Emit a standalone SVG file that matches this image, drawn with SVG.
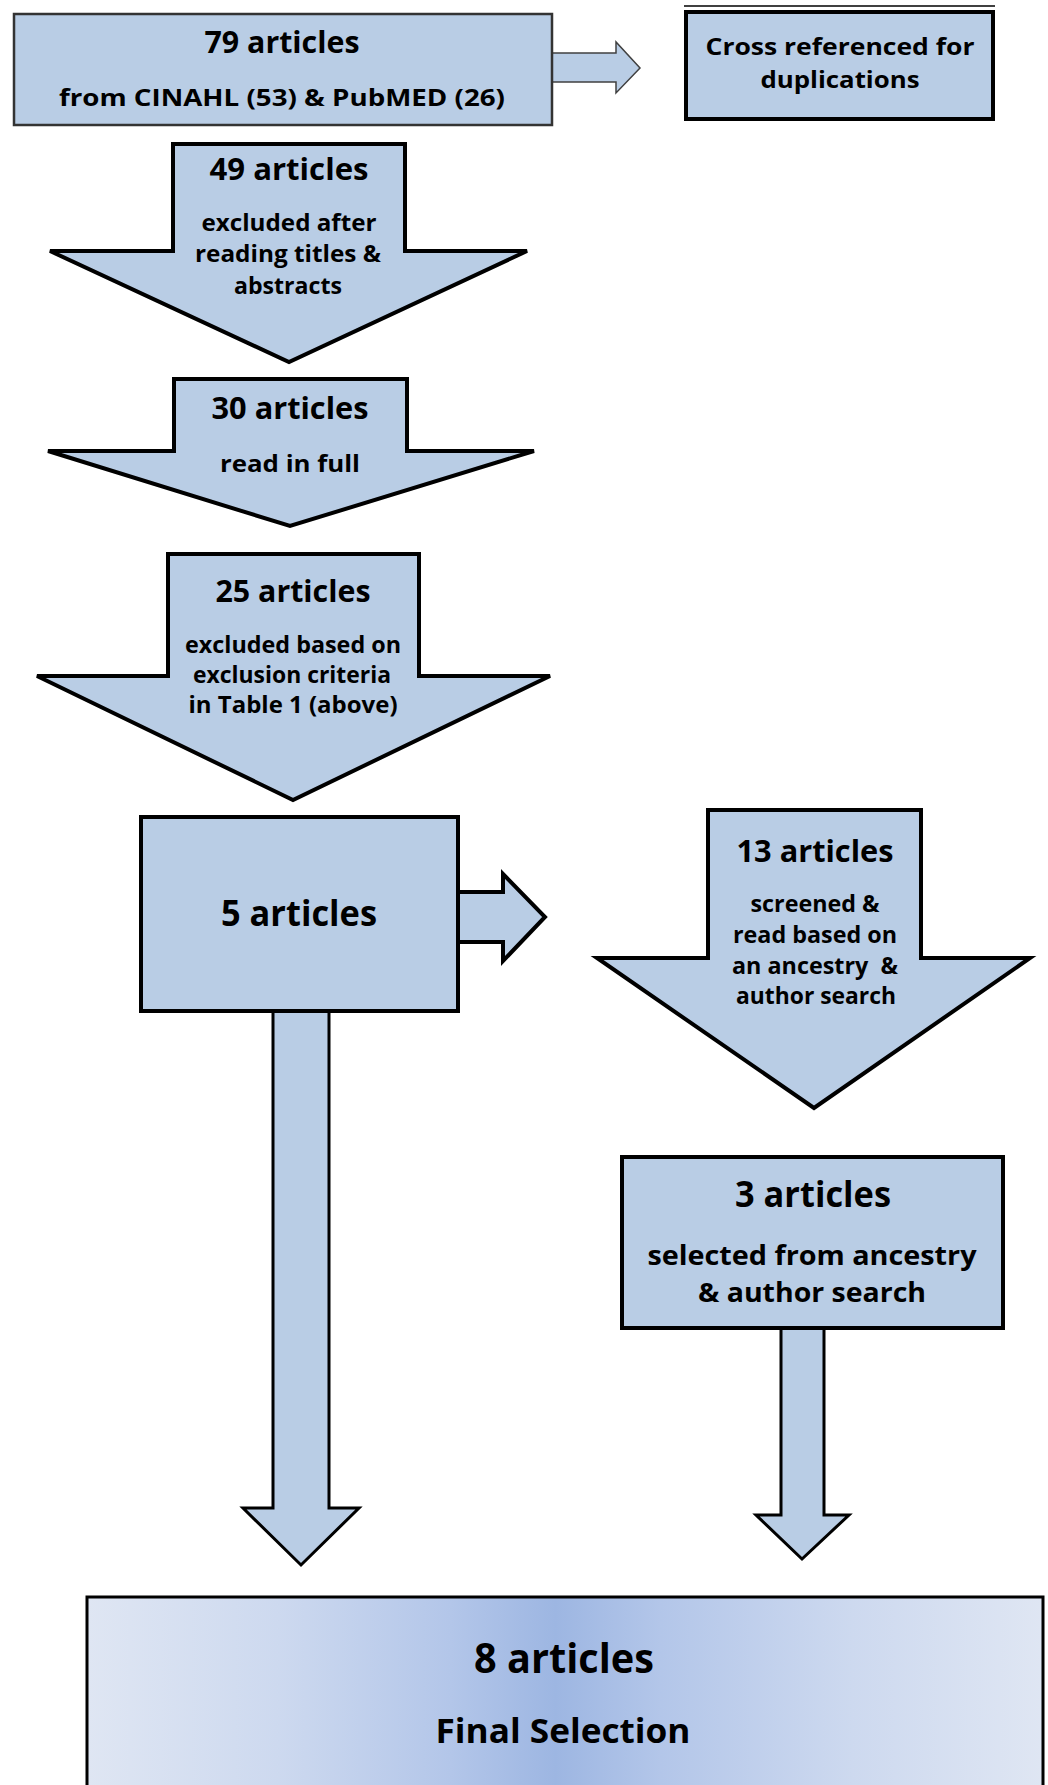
<svg xmlns="http://www.w3.org/2000/svg" width="1048" height="1785" viewBox="0 0 1048 1785">
<style>
.n{fill:#B9CDE5;stroke:#000;stroke-width:4;stroke-linejoin:miter}
.t{font-family:"Open Sans","Liberation Sans",sans-serif;font-weight:bold;fill:#000;text-anchor:middle;white-space:pre}
.h{font-size:30px}
.s{font-size:22.5px}
.b{font-size:36px}
</style>
<defs>
<linearGradient id="fg" x1="0" y1="0" x2="1" y2="0">
<stop offset="0" stop-color="#DFE6F3"/>
<stop offset="0.2" stop-color="#CDD9EF"/>
<stop offset="0.38" stop-color="#B3C6E9"/>
<stop offset="0.49" stop-color="#9DB6E2"/>
<stop offset="0.6" stop-color="#B3C6E9"/>
<stop offset="0.8" stop-color="#CDD9EF"/>
<stop offset="1" stop-color="#DFE6F3"/>
</linearGradient>
</defs>
<rect width="1048" height="1785" fill="#fff"/>
<g id="connectors">
<polygon points="552,53 616,53 616,42 640,68 616,93 616,82 552,82" fill="#B9CDE5" stroke="#404040" stroke-width="1.5"/>
<polygon class="n" points="458,892 503,892 503,874 545,917 503,961 503,942 458,942"/>
<polygon class="n" style="stroke-width:3" points="273,1010 329,1010 329,1508 359,1508 301,1565 243,1508 273,1508"/>
<polygon class="n" style="stroke-width:3" points="781,1328 824,1328 824,1515 849,1515 802,1559 756,1515 781,1515"/>
</g>
<g id="n79">
<rect x="14" y="14" width="538" height="111" fill="#B9CDE5" stroke="#333" stroke-width="2.5"/>
<text class="t h" x="282" y="53" textLength="155" lengthAdjust="spacingAndGlyphs">79 articles</text>
<text class="t s" x="282" y="106" textLength="446" lengthAdjust="spacingAndGlyphs">from CINAHL (53) &amp; PubMED (26)</text>
</g>
<g id="ncross">
<line x1="684" y1="6" x2="995" y2="6" stroke="#000" stroke-width="1.5"/>
<rect x="686" y="12" width="307" height="107" class="n"/>
<text class="t s" x="840" y="55" textLength="269" lengthAdjust="spacingAndGlyphs">Cross referenced for</text>
<text class="t s" x="840" y="88" textLength="159" lengthAdjust="spacingAndGlyphs">duplications</text>
</g>
<g id="n49">
<polygon class="n" points="173,144 405,144 405,251 527,251 289,362 50,251 173,251"/>
<text class="t h" x="289" y="180" textLength="159" lengthAdjust="spacingAndGlyphs">49 articles</text>
<text class="t s" x="289" y="231" textLength="175" lengthAdjust="spacingAndGlyphs">excluded after</text>
<text class="t s" x="288" y="262" textLength="186" lengthAdjust="spacingAndGlyphs">reading titles &amp;</text>
<text class="t s" x="288" y="294" textLength="108" lengthAdjust="spacingAndGlyphs">abstracts</text>
</g>
<g id="n30">
<polygon class="n" points="174,379 407,379 407,451 534,451 290,526 48,451 174,451"/>
<text class="t h" x="290" y="419" textLength="157" lengthAdjust="spacingAndGlyphs">30 articles</text>
<text class="t s" x="290" y="472" textLength="140" lengthAdjust="spacingAndGlyphs">read in full</text>
</g>
<g id="n25">
<polygon class="n" points="168,554 419,554 419,676 550,676 293,800 37,676 168,676"/>
<text class="t h" x="293" y="602" textLength="155" lengthAdjust="spacingAndGlyphs">25 articles</text>
<text class="t s" x="293" y="653" textLength="216" lengthAdjust="spacingAndGlyphs">excluded based on</text>
<text class="t s" x="292" y="683" textLength="198" lengthAdjust="spacingAndGlyphs">exclusion criteria</text>
<text class="t s" x="293" y="713" textLength="209" lengthAdjust="spacingAndGlyphs">in Table 1 (above)</text>
</g>
<g id="n5">
<rect x="141" y="817" width="317" height="194" class="n"/>
<text class="t b" x="299" y="926" textLength="156" lengthAdjust="spacingAndGlyphs">5 articles</text>
</g>
<g id="n13">
<polygon class="n" points="708,810 921,810 921,958 1030,958 814,1108 597,958 708,958"/>
<text class="t h" x="815" y="862" textLength="157" lengthAdjust="spacingAndGlyphs">13 articles</text>
<text class="t s" x="815" y="912" textLength="129" lengthAdjust="spacingAndGlyphs">screened &amp;</text>
<text class="t s" x="815" y="943" textLength="164" lengthAdjust="spacingAndGlyphs">read based on</text>
<text class="t s" x="815" y="974" textLength="166" lengthAdjust="spacingAndGlyphs">an ancestry  &amp;</text>
<text class="t s" x="816" y="1004" textLength="160" lengthAdjust="spacingAndGlyphs">author search</text>
</g>
<g id="n3">
<rect x="622" y="1157" width="381" height="171" class="n"/>
<text class="t b" x="813" y="1207" textLength="156" lengthAdjust="spacingAndGlyphs">3 articles</text>
<text class="t" style="font-size:26px" x="812" y="1265" textLength="329" lengthAdjust="spacingAndGlyphs">selected from ancestry</text>
<text class="t" style="font-size:26px" x="812" y="1302" textLength="228" lengthAdjust="spacingAndGlyphs">&amp; author search</text>
</g>
<g id="nfinal">
<rect x="87" y="1597" width="956" height="200" fill="url(#fg)" stroke="#000" stroke-width="3"/>
<text class="t" style="font-size:42px" x="564" y="1673" textLength="180" lengthAdjust="spacingAndGlyphs">8 articles</text>
<text class="t" style="font-size:34px" x="563" y="1743" textLength="255" lengthAdjust="spacingAndGlyphs">Final Selection</text>
</g>
</svg>
